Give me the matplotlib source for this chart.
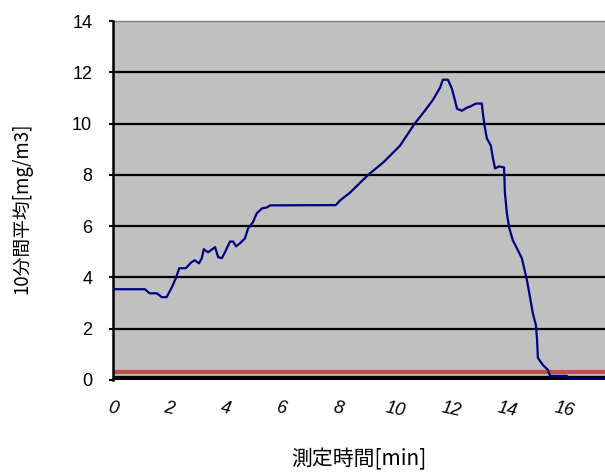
import matplotlib
matplotlib.use("Agg")
import matplotlib.pyplot as plt

plt.rcParams['font.family'] = ['Liberation Sans', 'Noto Sans CJK JP', 'DejaVu Sans']

# 測定時間 [min] and 10分間平均 [mg/m3]
time_min = [0.0, 1.13, 1.3, 1.56, 1.73, 1.9, 2.08, 2.23, 2.35, 2.58, 2.79, 2.9, 3.05,
            3.15, 3.22, 3.37, 3.62, 3.73, 3.86, 3.97, 4.15, 4.26, 4.36, 4.5, 4.68,
            4.79, 4.96, 5.1, 5.28, 5.46, 5.57, 7.9, 8.05, 8.4, 9.05, 9.6, 10.18,
            10.7, 11.06, 11.35, 11.6, 11.7, 11.88, 12.02, 12.13, 12.2, 12.37, 12.55,
            12.66, 12.87, 13.08, 13.12, 13.19, 13.26, 13.4, 13.47, 13.55, 13.69,
            13.87, 13.9, 13.97, 14.05, 14.18, 14.36, 14.5, 14.6, 14.68, 14.79, 14.89,
            15.0, 15.04, 15.07, 15.25, 15.43, 15.5, 16.1, 16.13, 17.45]
avg_conc = [3.54, 3.54, 3.38, 3.38, 3.23, 3.23, 3.6, 3.97, 4.36, 4.36, 4.6, 4.67, 4.55,
            4.75, 5.1, 4.98, 5.18, 4.79, 4.75, 4.98, 5.4, 5.4, 5.21, 5.33, 5.52,
            5.91, 6.15, 6.5, 6.69, 6.73, 6.81, 6.82, 7.0, 7.3, 8.0, 8.5, 9.14,
            10.0, 10.5, 10.93, 11.4, 11.71, 11.71, 11.36, 10.9, 10.58, 10.5, 10.62,
            10.66, 10.78, 10.78, 10.39, 9.84, 9.42, 9.14, 8.68, 8.25, 8.33,
            8.29, 7.3, 6.5, 5.95, 5.45, 5.06, 4.75, 4.28, 3.9, 3.23, 2.6,
            2.14, 1.56, 0.86, 0.58, 0.39, 0.16, 0.16, 0.04, 0.04]

limit_value = 0.3
base_value = 0.05

xticks = [0, 2, 4, 6, 8, 10, 12, 14, 16]
yticks = [0, 2, 4, 6, 8, 10, 12, 14]

fig = plt.figure(figsize=(6.05, 4.74), dpi=100, facecolor='white')
ax = fig.add_axes([113 / 605, 1 - 380 / 474, 1 - 113 / 605, 359 / 474])
ax.set_facecolor('#C0C0C0')

for y in yticks[1:-1]:
    ax.axhline(y, color='black', linewidth=1.6, zorder=1)

ax.axhline(limit_value, color='#C0504D', linewidth=3.0, zorder=2)
ax.axhline(base_value, color='black', linewidth=4.5, zorder=2)
ax.plot(time_min, avg_conc, color='#000080', linewidth=1.6, zorder=3)

ax.set_xlim(0, 17.45)
ax.set_ylim(0, 14)
ax.set_yticks(yticks)
ax.set_xticks(xticks)
ax.set_xticklabels([str(t) for t in xticks], style='italic', rotation=-12)
ax.tick_params(axis='y', length=3, width=1.5, labelsize=13, pad=12)
ax.tick_params(axis='x', length=0, labelsize=13, pad=14)

for side in ['top', 'right', 'bottom']:
    ax.spines[side].set_visible(False)
ax.spines['left'].set_linewidth(1.8)
ax.plot([0, 17.45], [14, 14], color='#808080', linewidth=1.0, clip_on=False)

cjk = ['Noto Sans CJK JP', 'DejaVu Sans']
fig.text(359 / 605, 1 - 459 / 474, '測定時間[min]', fontsize=15, family=cjk,
         ha='center', va='center')
fig.text(22 / 605, 1 - 208 / 474, '10分間平均[mg/m3]', fontsize=13.5, family=cjk,
         ha='center', va='center', rotation=90)

fig.savefig('out.png', dpi=100, facecolor='white')
